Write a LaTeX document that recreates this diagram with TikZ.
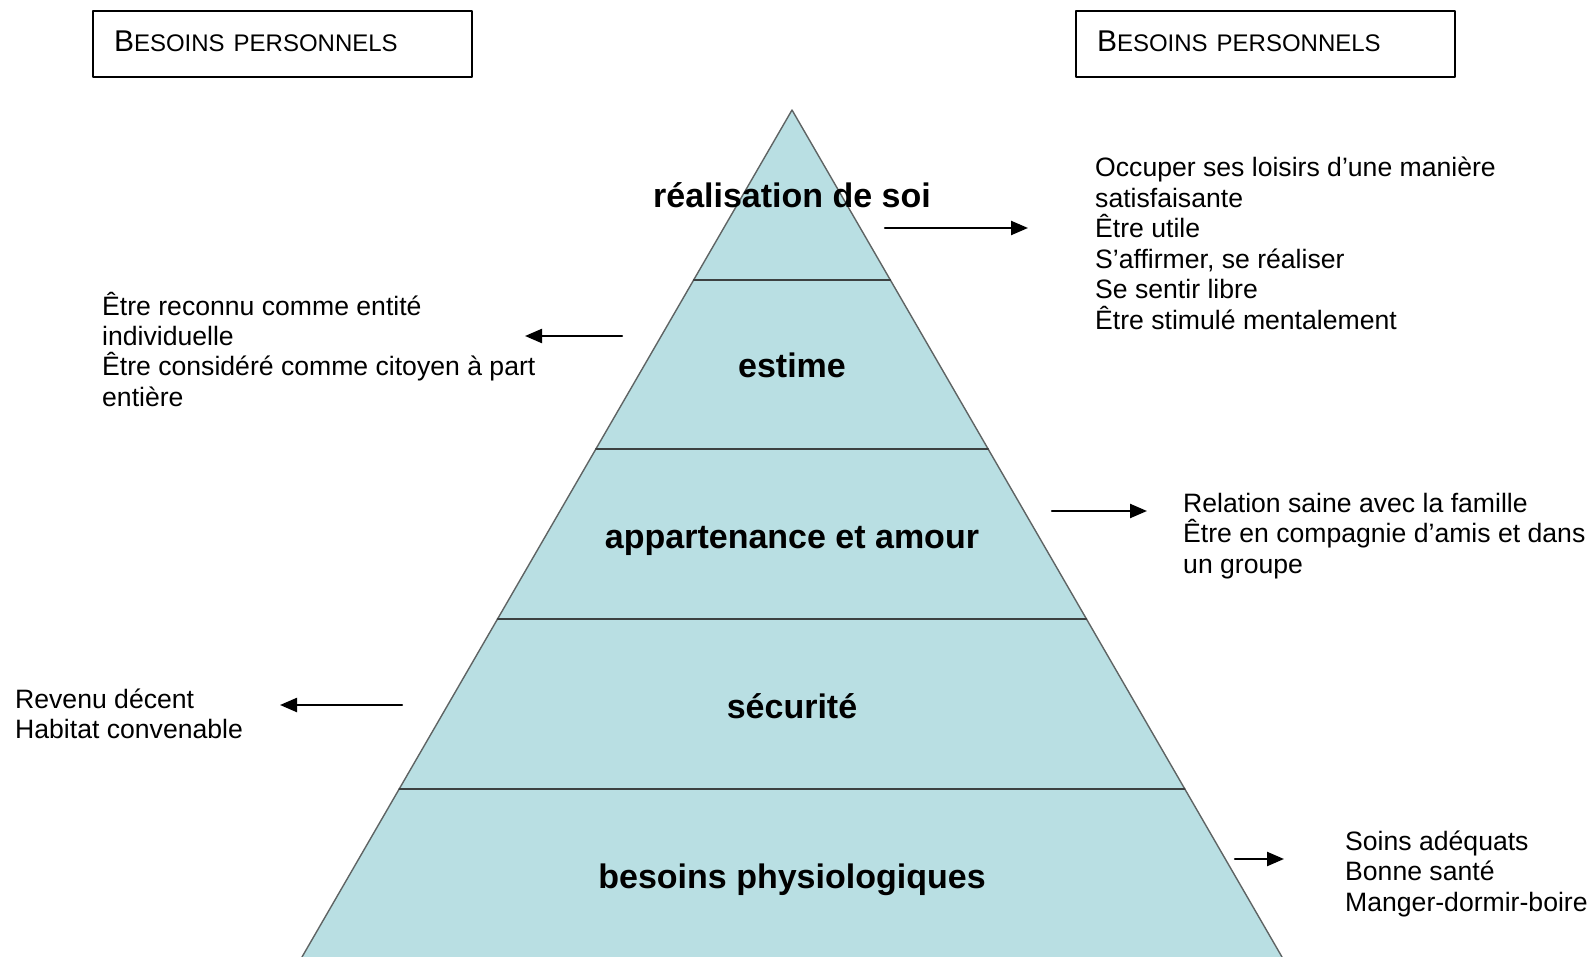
\documentclass[tikz,border=0pt]{standalone}
\usepackage{fontspec}
\setmainfont{Liberation Sans}
\usetikzlibrary{calc,arrows.meta}

\definecolor{pyrfill}{RGB}{185,223,227}
\definecolor{pyredge}{RGB}{95,100,100}
\definecolor{pyrline}{RGB}{60,65,65}

% Header text with hand-made small capitals
\newcommand{\besoinshead}{{\fontsize{30}{30}\selectfont B}{\fontsize{24}{24}\selectfont ESOINS}\hspace{9pt}{\fontsize{24}{24}\selectfont PERSONNELS}}

\tikzset{
  headbox/.style={draw, line width=2pt, anchor=north west, minimum width=379pt,
    minimum height=66pt, text width=337pt, inner xsep=21pt, inner ysep=0pt,
    align=left, text height=21.5pt, text depth=7pt},
  layer/.style={anchor=base, font=\bfseries\fontsize{34}{34}\selectfont},
  note/.style={anchor=base west, align=left, inner sep=0pt,
    font=\fontsize{26.6}{30.5}\selectfont},
  pointer/.style={->, line width=2.3pt},
}

\begin{document}
\begin{tikzpicture}[x=1pt, y=-1pt, line cap=round, line join=round,
    >={Triangle[length=17pt,width=14pt]}]
			% Window of the picture
			\useasboundingbox (0,0) rectangle (1591,957);
			
			% Corners of the pyramid
			\coordinate (apex) at (792,110);
			\coordinate (bl) at (302,957);
			\coordinate (br) at (1282,957);
			
			% Pyramid body and its sloping sides
			\fill[pyrfill] (apex) -- (bl) -- (br) -- cycle;
			\draw[pyredge, line width=1.4pt] (bl) -- (apex) -- (br);
			
			% Lines between the levels
			\foreach \yy in {280,449,619,789}
				\draw[pyrline, line width=1.7pt]
				($(apex)!{(\yy-110)/847}!(bl)$) -- ($(apex)!{(\yy-110)/847}!(br)$);
			
			% Names of the levels
			\node[layer] (real) at (792,208) {réalisation de soi};
			\node[layer] (est) at (792,378) {estime};
			\node[layer] (app) at (792,548) {appartenance et amour};
			\node[layer] (sec) at (792,718) {sécurité};
			\node[layer] (phys) at (792,888) {besoins physiologiques};
			
			% Header boxes
			\node[headbox] (hleft) at (92,10) {\besoinshead};
			\node[headbox] (hright) at (1075,10) {\besoinshead};
			
			% Needs listed beside each level (placed at the baseline of the last line)
			\node[note] (nreal) at (1095,329.5) {Occuper ses loisirs d’une manière\\satisfaisante\\Être utile\\S’affirmer, se réaliser\\Se sentir libre\\Être stimulé mentalement};
			\node[note] (nest) at (102,406.5) {Être reconnu comme entité\\individuelle\\Être considéré comme citoyen à part\\entière};
			\node[note] (napp) at (1183,573) {Relation saine avec la famille\\Être en compagnie d’amis et dans\\un groupe};
			\node[note] (nsec) at (15,738.5) {Revenu décent\\Habitat convenable};
			\node[note] (nphys) at (1345,911) {Soins adéquats\\Bonne santé\\Manger-dormir-boire};
			
			% Arrow ends
			\coordinate (a1s) at (885,228);  \coordinate (a1e) at (1028,228);
			\coordinate (a2s) at (622,336);  \coordinate (a2e) at (525,336);
			\coordinate (a3s) at (1052,511); \coordinate (a3e) at (1147,511);
			\coordinate (a4s) at (402,705);  \coordinate (a4e) at (280,705);
			\coordinate (a5s) at (1235,859); \coordinate (a5e) at (1284,859);
			
			% Arrows from the pyramid to the lists
			\draw[pointer] (a1s) -- (a1e);
			\draw[pointer] (a2s) -- (a2e);
			\draw[pointer] (a3s) -- (a3e);
			\draw[pointer] (a4s) -- (a4e);
			\draw[pointer] (a5s) -- (a5e);
		\end{tikzpicture}
\end{document}
